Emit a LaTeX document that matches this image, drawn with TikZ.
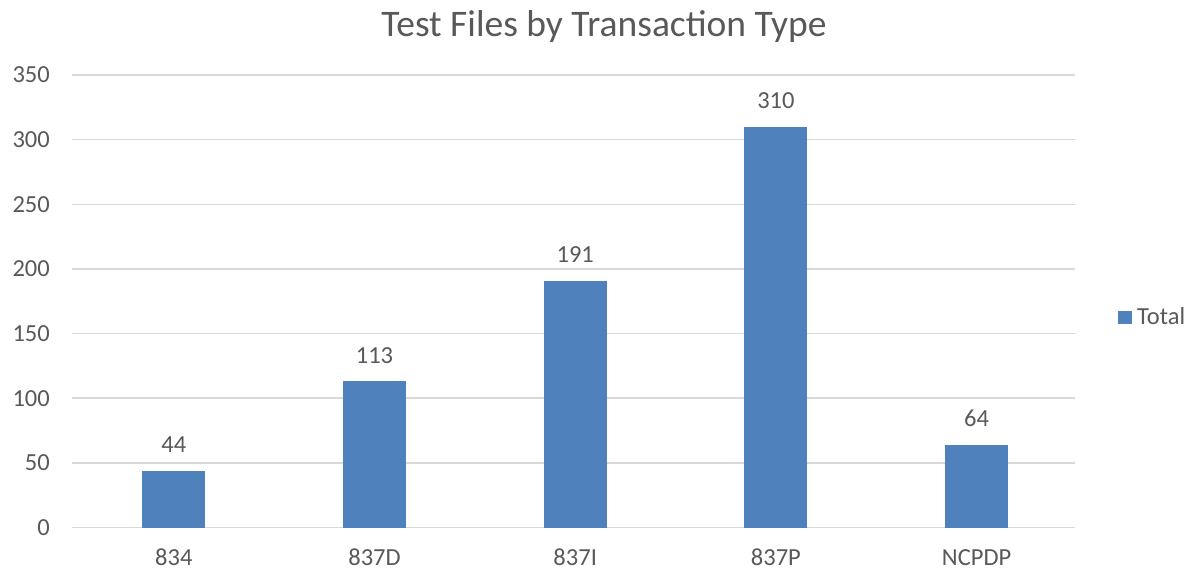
\documentclass[tikz,border=0pt]{standalone}
\usepackage{fontspec}
\setmainfont{Carlito}
\definecolor{barblue}{HTML}{4F81BD}
\definecolor{txt}{HTML}{595959}
\definecolor{grid}{HTML}{D9D9D9}
\begin{document}
\begin{tikzpicture}[x=1pt,y=-1pt,
  gridline/.style={draw=grid,line width=1.5pt},
  bar/.style={fill=barblue,draw=none},
  ticklab/.style={text=txt,font=\fontsize{24.5}{24.5}\selectfont,inner sep=0pt},
  vallab/.style={text=txt,font=\fontsize{24.5}{24.5}\selectfont,inner sep=0pt},
  titlelab/.style={text=txt,font=\fontsize{37.5}{37.5}\selectfont,inner sep=0pt}]
\useasboundingbox[fill=white] (0,0) rectangle (1189,569);
% gridlines and y labels
\foreach \v [count=\i from 0] in {0,50,100,150,200,250,300,350}{
  \pgfmathsetmacro{\yy}{527.5-\v*1.292857}
  \draw[gridline] (72,\yy) -- (1075,\yy);
  \node[ticklab,anchor=base east] (y\i) at (50,\yy+8) {\v};
}
% bars
\foreach \c/\v/\lab [count=\i] in {173.8/44/834,374.5/113/837D,575.2/191/837I,775.9/310/837P,976.6/64/NCPDP}{
  \pgfmathsetmacro{\top}{527.5-\v*1.292857}
  \fill[bar] (\c-31.5,527.5) rectangle (\c+31.5,\top);
  \node[vallab,anchor=base] (v\i) at (\c,\top-18) {\v};
  \node[ticklab,anchor=base] (c\i) at (\c,565) {\lab};
}
% title
\node[titlelab,anchor=base] (title) at (604,37) {Test Files by Transaction Type};
% legend
\fill[bar] (1118,311) rectangle (1132,324);
\node[ticklab,anchor=base west] (leg) at (1137,325) {Total};
\end{tikzpicture}
\end{document}
